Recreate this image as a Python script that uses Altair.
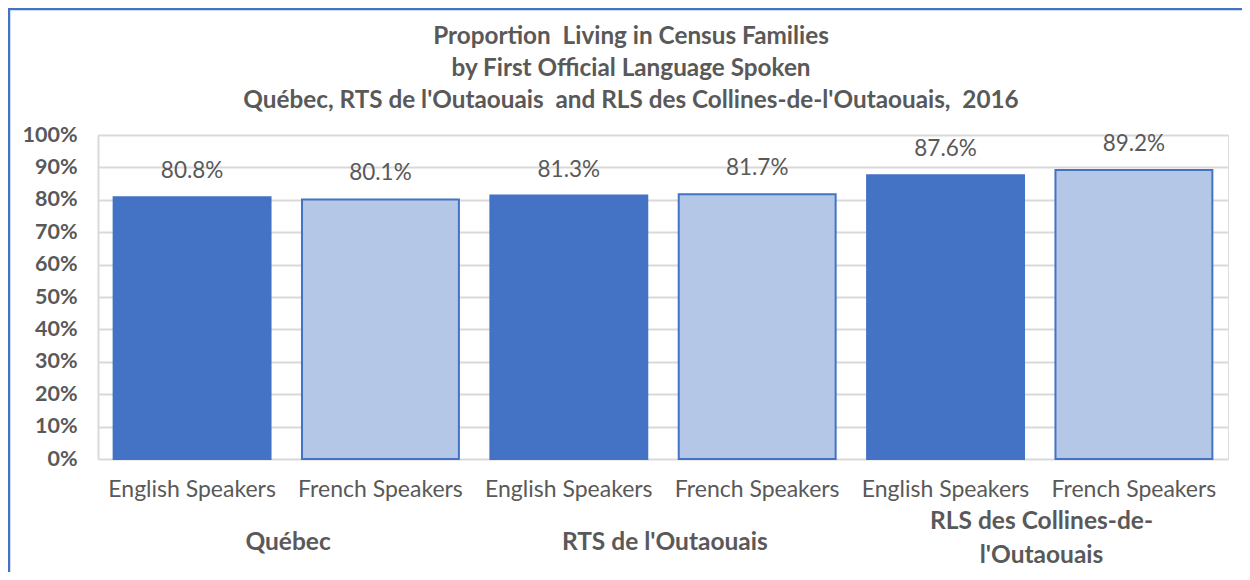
import altair as alt
import pandas as pd

regions = ["Québec", "RTS de l'Outaouais", "RLS des Collines-de-l'Outaouais"]
region_display = ["Québec", "RTS de l'Outaouais", "RLS des Collines-de-\nl'Outaouais"]
speakers = ["English Speakers", "French Speakers"]
values = [80.8, 80.1, 81.3, 81.7, 87.6, 89.2]
title_lines = ["Proportion\u00a0 Living in Census Families",
               "by First Official Language Spoken",
               "Québec, RTS de l'Outaouais\u00a0 and RLS des Collines-de-l'Outaouais,\u00a0 2016"]

rows = []
i = 0
for r in regions:
    for s in speakers:
        rows.append({"key": r + "|" + s, "region": r, "speaker": s, "value": values[i]})
        i += 1
df = pd.DataFrame(rows)
order = list(df["key"])

grp = pd.DataFrame({"key": [r + "|" + speakers[0] for r in regions], "label": region_display})
grp1 = grp[~grp["label"].str.contains("\n")]
grp2 = grp[grp["label"].str.contains("\n")]

W, H = 1130, 324
FONT = "Lato"
GRAY = "#595959"
BLUE = "#4472C4"
LIGHT = "#B4C7E7"

xscale = alt.Scale(domain=order, paddingInner=0.167, paddingOuter=0.083)
yscale = alt.Scale(domain=[0, 100])
xaxis = alt.Axis(labelExpr="split(datum.label, '|')[1]", labelAngle=0,
                 labelFont=FONT, labelFontSize=23, labelColor=GRAY,
                 labelPadding=19, ticks=False, domain=False)
yaxis = alt.Axis(values=list(range(0, 101, 10)), labelExpr="datum.value + '%'",
                 labelFont=FONT, labelFontSize=21.5, labelFontWeight="bold",
                 labelColor=GRAY, labelPadding=21, ticks=False, labelOverlap=False,
                 domainColor="#d9d9d9", domainWidth=2,
                 gridColor="#d9d9d9", gridWidth=2)

X = alt.X("key:N", sort=order, scale=xscale, title=None, axis=xaxis)
Y = alt.Y("value:Q", scale=yscale, title=None, axis=yaxis)

base = alt.Chart(df)

bars = base.mark_bar(strokeWidth=2).encode(
    x=X, y=Y,
    color=alt.Color("speaker:N", scale=alt.Scale(domain=speakers, range=[BLUE, LIGHT]), legend=None),
    stroke=alt.Stroke("speaker:N", scale=alt.Scale(domain=speakers, range=[BLUE, BLUE]), legend=None),
)

labels = base.transform_calculate(
    txt="format(datum.value, '.1f') + '%'"
).mark_text(font=FONT, fontSize=22.5, color=GRAY, dy=-26, baseline="middle").encode(
    x=X, y=Y, text="txt:N",
)

groups1 = alt.Chart(grp1).mark_text(font=FONT, fontSize=24.5, fontWeight="bold", color=GRAY,
                                      dx=96, baseline="middle").encode(
    x=X, y=alt.value(H + 84), text="label:N",
)
groups2 = alt.Chart(grp2).mark_text(font=FONT, fontSize=24.5, fontWeight="bold", color=GRAY,
                                      dx=96, baseline="middle", lineBreak="\n",
                                      lineHeight=34).encode(
    x=X, y=alt.value(H + 63), text="label:N",
)

one = alt.Chart(pd.DataFrame({"a": [0]}))
title = one.mark_text(font=FONT, fontSize=24.3, fontWeight="bold", color=GRAY,
                      align="center", baseline="middle", lineBreak="\n",
                      lineHeight=32).encode(
    x=alt.value(W / 2 - 32), y=alt.value(-98), text=alt.value("\n".join(title_lines)))

frame_top = one.mark_rule(color=BLUE, strokeWidth=2.5).encode(
    x=alt.value(-90), x2=alt.value(W + 14), y=alt.value(-126))
frame_left = one.mark_rule(color=BLUE, strokeWidth=2.5).encode(
    x=alt.value(-89), y=alt.value(-127), y2=alt.value(H + 113))

chart = alt.layer(bars, labels, groups1, groups2, title, frame_top, frame_left).properties(
    width=W, height=H,
    padding={"left": 90, "top": 127, "right": 14, "bottom": 113},
    autosize=alt.AutoSizeParams(type="none"),
).configure_view(stroke="#d9d9d9", strokeWidth=2).configure(background="white")

chart.save("out.html", embed_options={"renderer": "svg", "actions": False})
